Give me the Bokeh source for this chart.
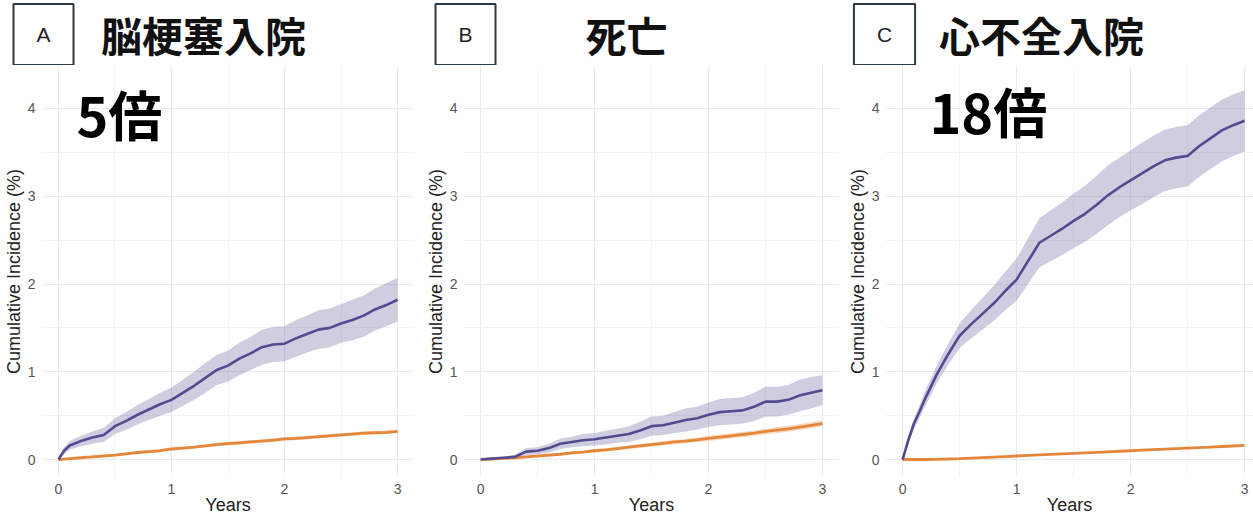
from bokeh.plotting import figure
from bokeh.layouts import row, column
from bokeh.models import Label, Range1d, FixedTicker, ColumnDataSource
from bokeh.embed import file_html
from bokeh.resources import INLINE

# ---------------- data ----------------
years_ab = [0, 0.05, 0.1, 0.2, 0.3, 0.4, 0.5, 0.6, 0.7, 0.8, 0.9, 1.0, 1.1, 1.2, 1.3, 1.4,
            1.5, 1.6, 1.7, 1.8, 1.9, 2.0, 2.1, 2.2, 2.3, 2.4, 2.5, 2.6, 2.7, 2.8, 2.9, 3.0]

# A: 脳梗塞入院
a_case = [0, 0.10, 0.16, 0.21, 0.25, 0.28, 0.38, 0.44, 0.51, 0.57, 0.63, 0.68, 0.76, 0.84, 0.93, 1.02,
          1.07, 1.15, 1.21, 1.28, 1.31, 1.32, 1.38, 1.43, 1.48, 1.50, 1.55, 1.59, 1.64, 1.71, 1.76, 1.82]
a_case_lo = [0, 0.06, 0.11, 0.15, 0.18, 0.20, 0.29, 0.34, 0.40, 0.45, 0.50, 0.54, 0.61, 0.68, 0.76, 0.85,
             0.89, 0.96, 1.02, 1.08, 1.11, 1.12, 1.17, 1.22, 1.26, 1.28, 1.33, 1.36, 1.40, 1.47, 1.52, 1.57]
a_case_hi = [0, 0.14, 0.21, 0.27, 0.32, 0.36, 0.47, 0.54, 0.62, 0.69, 0.76, 0.82, 0.91, 1.00, 1.10, 1.19,
             1.24, 1.33, 1.40, 1.48, 1.51, 1.52, 1.59, 1.64, 1.70, 1.72, 1.77, 1.82, 1.87, 1.95, 2.01, 2.07]
a_ctrl = [0, 0.005, 0.01, 0.02, 0.03, 0.04, 0.05, 0.065, 0.08, 0.09, 0.10, 0.12, 0.13, 0.14, 0.155, 0.17,
          0.18, 0.19, 0.20, 0.21, 0.22, 0.235, 0.24, 0.25, 0.26, 0.27, 0.28, 0.29, 0.30, 0.305, 0.31, 0.32]
a_ctrl_lo = [0, 0.0, 0.0, 0.01, 0.02, 0.03, 0.04, 0.05, 0.065, 0.075, 0.085, 0.105, 0.115, 0.125, 0.14, 0.15,
             0.16, 0.17, 0.18, 0.19, 0.20, 0.215, 0.22, 0.23, 0.24, 0.25, 0.26, 0.27, 0.28, 0.285, 0.29, 0.30]
a_ctrl_hi = [0, 0.01, 0.02, 0.03, 0.04, 0.05, 0.06, 0.08, 0.095, 0.105, 0.115, 0.135, 0.145, 0.155, 0.17, 0.19,
             0.20, 0.21, 0.22, 0.23, 0.24, 0.255, 0.26, 0.27, 0.28, 0.29, 0.30, 0.31, 0.32, 0.325, 0.33, 0.34]

# B: 死亡
b_case = [0, 0.005, 0.01, 0.02, 0.03, 0.09, 0.10, 0.13, 0.18, 0.20, 0.22, 0.23, 0.25, 0.27, 0.29, 0.33,
          0.38, 0.39, 0.42, 0.45, 0.47, 0.51, 0.54, 0.55, 0.56, 0.60, 0.66, 0.66, 0.68, 0.73, 0.76, 0.79]
b_case_lo = [0, 0.0, 0.0, 0.005, 0.01, 0.05, 0.06, 0.08, 0.12, 0.14, 0.15, 0.16, 0.17, 0.19, 0.20, 0.23,
             0.27, 0.28, 0.30, 0.32, 0.34, 0.37, 0.39, 0.40, 0.41, 0.44, 0.49, 0.49, 0.51, 0.55, 0.58, 0.62]
b_case_hi = [0, 0.01, 0.02, 0.035, 0.05, 0.13, 0.14, 0.18, 0.24, 0.26, 0.29, 0.30, 0.33, 0.35, 0.38, 0.43,
             0.49, 0.50, 0.54, 0.58, 0.60, 0.65, 0.69, 0.70, 0.71, 0.76, 0.83, 0.83, 0.85, 0.91, 0.94, 0.96]
b_ctrl = [0, 0.003, 0.006, 0.012, 0.02, 0.03, 0.04, 0.05, 0.06, 0.075, 0.085, 0.10, 0.11, 0.125, 0.14, 0.155,
          0.17, 0.185, 0.20, 0.21, 0.225, 0.24, 0.255, 0.27, 0.285, 0.30, 0.32, 0.335, 0.35, 0.37, 0.39, 0.41]
b_ctrl_lo = [0, 0.0, 0.0, 0.005, 0.01, 0.02, 0.03, 0.035, 0.045, 0.06, 0.07, 0.08, 0.09, 0.105, 0.12, 0.13,
             0.145, 0.16, 0.175, 0.185, 0.20, 0.21, 0.225, 0.24, 0.255, 0.27, 0.29, 0.30, 0.315, 0.335, 0.355, 0.375]
b_ctrl_hi = [0, 0.006, 0.012, 0.02, 0.03, 0.04, 0.05, 0.065, 0.075, 0.09, 0.10, 0.12, 0.13, 0.145, 0.16, 0.18,
             0.195, 0.21, 0.225, 0.235, 0.25, 0.27, 0.285, 0.30, 0.315, 0.33, 0.35, 0.37, 0.385, 0.405, 0.425, 0.445]

# C: 心不全入院
years_c = [0, 0.05, 0.1, 0.15, 0.2, 0.3, 0.4, 0.5, 0.6, 0.7, 0.8, 0.9, 1.0, 1.1, 1.2, 1.3, 1.4,
           1.5, 1.6, 1.7, 1.8, 1.9, 2.0, 2.1, 2.2, 2.3, 2.4, 2.5, 2.6, 2.7, 2.8, 2.9, 3.0]
c_case = [0, 0.22, 0.41, 0.55, 0.70, 0.97, 1.20, 1.41, 1.54, 1.66, 1.78, 1.92, 2.05, 2.26, 2.47, 2.55, 2.63,
          2.72, 2.80, 2.90, 3.01, 3.10, 3.18, 3.26, 3.34, 3.41, 3.44, 3.46, 3.57, 3.66, 3.75, 3.81, 3.86]
c_case_lo = [0, 0.17, 0.35, 0.48, 0.61, 0.87, 1.08, 1.27, 1.38, 1.48, 1.58, 1.70, 1.81, 2.00, 2.19, 2.26, 2.33,
             2.41, 2.48, 2.57, 2.67, 2.76, 2.84, 2.91, 2.99, 3.06, 3.09, 3.11, 3.22, 3.31, 3.40, 3.46, 3.51]
c_case_hi = [0, 0.27, 0.47, 0.62, 0.79, 1.07, 1.32, 1.55, 1.70, 1.84, 1.98, 2.14, 2.29, 2.52, 2.75, 2.84, 2.93,
             3.03, 3.12, 3.23, 3.35, 3.44, 3.52, 3.61, 3.69, 3.76, 3.79, 3.81, 3.92, 4.01, 4.10, 4.16, 4.21]
c_ctrl = [0, 0.0, 0.0, 0.0, 0.0, 0.002, 0.006, 0.01, 0.016, 0.022, 0.028, 0.034, 0.04, 0.046, 0.052, 0.058, 0.064,
          0.07, 0.076, 0.082, 0.088, 0.094, 0.10, 0.106, 0.112, 0.118, 0.124, 0.13, 0.136, 0.142, 0.148, 0.154, 0.16]

y_ticks = [0, 1, 2, 3, 4]
y_minor = [0.5, 1.5, 2.5, 3.5, 4.5]
x_ticks = [0, 1, 2, 3]
x_minor = [0.5, 1.5, 2.5]

panels = [
    dict(letter="A", title="脳梗塞入院", badge="5倍", t=years_ab, case=a_case, lo=a_case_lo, hi=a_case_hi,
         ctrl=a_ctrl, clo=a_ctrl_lo, chi=a_ctrl_hi),
    dict(letter="B", title="死亡", badge=None, t=years_ab, case=b_case, lo=b_case_lo, hi=b_case_hi,
         ctrl=b_ctrl, clo=b_ctrl_lo, chi=b_ctrl_hi),
    dict(letter="C", title="心不全入院", badge="18倍", t=years_c, case=c_case, lo=c_case_lo, hi=c_case_hi,
         ctrl=c_ctrl, clo=None, chi=None),
]

# ---------------- layout / style ----------------
PURPLE = "#514c91"
ORANGE = "#e4873a"
GRID = "#ebebeb"
MINOR = "#f4f4f4"
FONT = "Liberation Sans"
CJK = "Noto Sans CJK JP"
HEAD_H = 65

geom = [
    dict(width=420, left=41, right=6, xend=3.15, box_x=43, title_x=203, badge_x=35, badge_y=364),
    dict(width=421, left=43, right=2, xend=3.15, box_x=465, title_x=626, badge_x=0, badge_y=0),
    dict(width=412, left=44, right=0, xend=3.078, box_x=884, title_x=1041, badge_x=44, badge_y=367),
]

# header strip (panel letters and titles)
head = figure(width=1253, height=HEAD_H, output_backend="svg", toolbar_location=None,
              x_range=Range1d(0, 1253), y_range=Range1d(HEAD_H, 0),
              min_border=0, x_axis_type=None, y_axis_type=None)
head.outline_line_color = None
head.grid.visible = False
for pan, g in zip(panels, geom):
    head.add_layout(Label(x=g["box_x"], y=34, text=pan["letter"],
                          text_align="center", text_baseline="middle",
                          text_font=FONT, text_font_size="21px", text_color="#222222",
                          border_line_color="#2b3b45", border_line_width=2,
                          background_fill_color="white",
                          padding=dict(left=23, right=23, top=19, bottom=19)))
    head.add_layout(Label(x=g["title_x"], y=33, text=pan["title"],
                          text_align="center", text_baseline="middle",
                          text_font=CJK, text_font_size="41px", text_font_style="bold",
                          text_color="#111111"))

figs = []
for pan, g in zip(panels, geom):
    p = figure(width=g["width"], height=517 - HEAD_H, output_backend="svg", toolbar_location=None,
               x_range=Range1d(-0.15, g["xend"]), y_range=Range1d(-0.205, 4.49),
               min_border_left=g["left"], min_border_right=g["right"],
               min_border_top=0, min_border_bottom=40)
    p.outline_line_color = None
    p.background_fill_color = "white"
    p.border_fill_color = "white"

    p.xaxis.ticker = FixedTicker(ticks=x_ticks, minor_ticks=x_minor)
    p.yaxis.ticker = FixedTicker(ticks=y_ticks, minor_ticks=y_minor)
    for ax in (p.xaxis[0], p.yaxis[0]):
        ax.axis_line_color = None
        ax.major_tick_line_color = None
        ax.minor_tick_line_color = None
        ax.major_tick_out = 0
        ax.minor_tick_out = 0
        ax.major_tick_in = 0
        ax.minor_tick_in = 0
        ax.major_label_text_font = FONT
        ax.major_label_text_font_size = "14px"
        ax.major_label_text_color = "#555555"
        ax.axis_label_text_font = FONT
        ax.axis_label_text_font_size = "18px"
        ax.axis_label_text_font_style = "normal"
        ax.axis_label_text_color = "#222222"
    p.xaxis.axis_label = "Years"
    p.yaxis.axis_label = "Cumulative Incidence (%)"
    p.xaxis.major_label_standoff = 6
    p.xaxis.axis_label_standoff = -2
    p.yaxis.major_label_standoff = 6
    p.yaxis.axis_label_standoff = 1

    p.grid.grid_line_color = GRID
    p.grid.grid_line_width = 1
    p.grid.minor_grid_line_color = MINOR
    p.grid.minor_grid_line_width = 1

    src = ColumnDataSource(dict(t=pan["t"], case=pan["case"], lo=pan["lo"], hi=pan["hi"], ctrl=pan["ctrl"]))
    p.varea(x="t", y1="lo", y2="hi", source=src, fill_color=PURPLE, fill_alpha=0.28)
    if pan["clo"] is not None:
        src2 = ColumnDataSource(dict(t=pan["t"], lo=pan["clo"], hi=pan["chi"]))
        p.varea(x="t", y1="lo", y2="hi", source=src2, fill_color=ORANGE, fill_alpha=0.3)
    p.line(x="t", y="ctrl", source=src, line_color=ORANGE, line_width=2.8)
    p.line(x="t", y="case", source=src, line_color=PURPLE, line_width=2.6)

    if pan["badge"]:
        p.add_layout(Label(x=g["badge_x"], y=g["badge_y"], x_units="screen", y_units="screen",
                           text=pan["badge"], text_align="left", text_baseline="middle",
                           text_font=CJK, text_font_size="54px", text_font_style="bold",
                           text_color="#000000"))
    figs.append(p)

layout = column(head, row(*figs, spacing=0), spacing=0)
open("out.html", "w").write(file_html(layout, INLINE))
